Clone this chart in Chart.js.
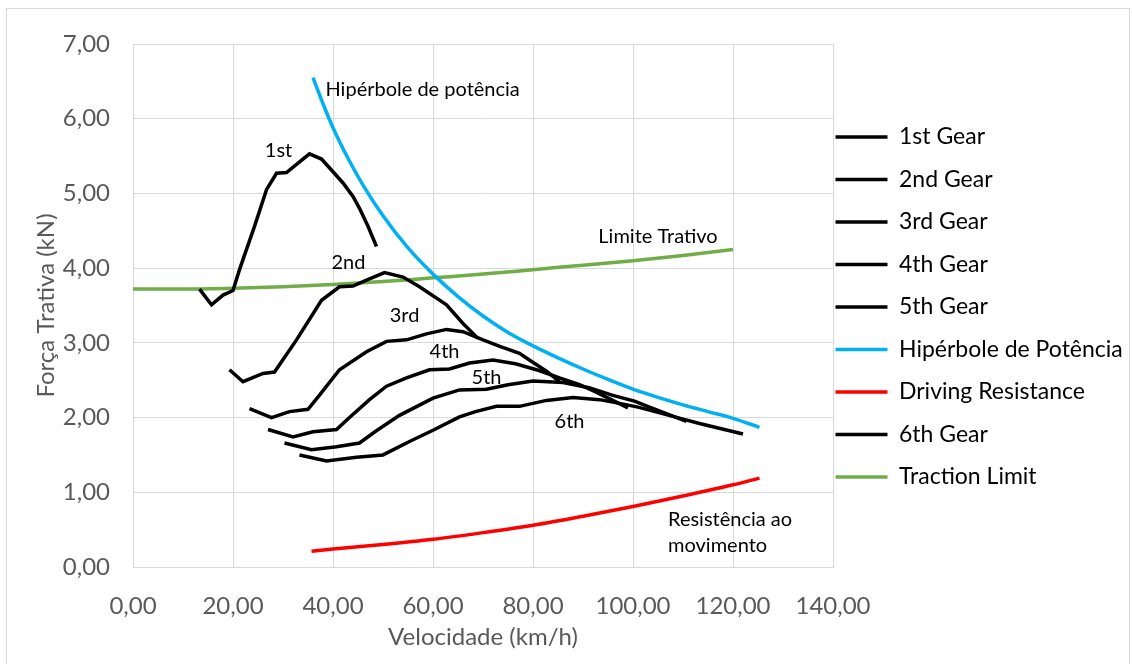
<!DOCTYPE html>
<html>
<head>
<meta charset="utf-8">
<script src="https://cdn.jsdelivr.net/npm/chart.js@4.4.1/dist/chart.umd.min.js"></script>
<style>
  body { margin: 0; background: #fff; }
  #wrap { position: relative; width: 1132px; height: 664px; }
  #frame { position: absolute; left: 6px; top: 8px; width: 1124px; height: 660px; border: 1px solid #d9d9d9; box-sizing: border-box; }
  canvas { position: absolute; left: 0; top: 0; }
</style>
</head>
<body>
<div id="wrap">
  <div id="frame"></div>
  <canvas id="grafico" width="1132" height="664"></canvas>
</div>
<script>
// Valeurs (km/h , kN)
const gear1Speed = [13.3, 15.7, 18, 20, 21.3, 24.3, 26.7, 28.7, 30.7, 32.7, 35.3, 37.7, 40, 42, 44, 45.3, 47, 48.7];
const gear1Force = [3.72, 3.51, 3.64, 3.70, 3.98, 4.56, 5.05, 5.27, 5.28, 5.39, 5.53, 5.46, 5.29, 5.14, 4.96, 4.80, 4.56, 4.29];

const gear2Speed = [19.3, 22, 26, 28.3, 32.7, 37.7, 41.3, 44, 46.7, 50.3, 54, 57.3, 62.7, 66, 69];
const gear2Force = [2.64, 2.48, 2.59, 2.61, 3.04, 3.57, 3.75, 3.76, 3.84, 3.94, 3.88, 3.75, 3.51, 3.26, 3.06];

const gear3Speed = [23.3, 27.7, 31.3, 35, 37.3, 41.3, 46.7, 50.7, 54.7, 58.7, 62.7, 66, 70, 73.5, 77.3, 79.5, 82.7, 85.3];
const gear3Force = [2.12, 2.00, 2.08, 2.11, 2.30, 2.64, 2.88, 3.02, 3.04, 3.12, 3.18, 3.15, 3.04, 2.95, 2.86, 2.76, 2.62, 2.48];

const gear4Speed = [27, 32, 36, 40.7, 43.3, 47.3, 50.7, 54.7, 59.3, 63.3, 67.3, 72, 76.5, 81.2, 85.3, 89.3, 92, 99];
const gear4Force = [1.84, 1.74, 1.81, 1.84, 2.00, 2.24, 2.42, 2.53, 2.64, 2.65, 2.73, 2.77, 2.72, 2.63, 2.53, 2.44, 2.36, 2.13];

const gear5Speed = [30.3, 35.7, 40.7, 45.3, 48.6, 53.3, 60, 65.3, 70.7, 75, 80, 86, 91.2, 95.8, 100.3, 103.3, 110.7];
const gear5Force = [1.66, 1.57, 1.61, 1.66, 1.82, 2.03, 2.26, 2.37, 2.38, 2.44, 2.49, 2.47, 2.40, 2.30, 2.22, 2.14, 1.95];

const gear6Speed = [33.3, 38.7, 44.7, 50, 55.3, 60, 65.3, 68.5, 72.7, 77.3, 82.7, 88, 93.3, 97.3, 101, 105, 110, 113.3, 122];
const gear6Force = [1.50, 1.42, 1.47, 1.50, 1.68, 1.83, 2.01, 2.08, 2.15, 2.15, 2.23, 2.27, 2.24, 2.19, 2.14, 2.07, 1.98, 1.92, 1.78];

const hiperSpeed = [36, 38, 40, 43, 46, 50, 55, 60, 65, 70, 75, 80, 85, 90, 95, 100, 105, 110, 115, 120, 125.3];
const hiperForce = [6.55, 6.20, 5.88, 5.47, 5.11, 4.70, 4.27, 3.92, 3.62, 3.36, 3.14, 2.96, 2.80, 2.65, 2.51, 2.38, 2.27, 2.17, 2.08, 1.99, 1.87];

const resistSpeed = [35.7, 40, 50, 60, 70, 80, 90, 100, 110, 120, 125.3];
const resistForce = [0.21, 0.24, 0.30, 0.37, 0.46, 0.56, 0.68, 0.81, 0.95, 1.10, 1.19];

const limiteSpeed = [0, 10, 20, 30, 40, 50, 60, 70, 80, 90, 100, 110, 120];
const limiteForce = [3.72, 3.72, 3.73, 3.75, 3.78, 3.82, 3.87, 3.92, 3.98, 4.04, 4.10, 4.17, 4.25];

const xTicks = [0, 20, 40, 60, 80, 100, 120, 140];
const yTicks = [0, 1, 2, 3, 4, 5, 6, 7];

// Textes posés sur le graphique
const noteTexts = ['Hipérbole de potência', '1st', '2nd', '3rd', '4th', '5th', '6th', 'Limite Trativo', 'Resistência ao', 'movimento'];
const noteX = [38.5, 29.1, 43.1, 54.3, 62.3, 70.7, 87.3, 105, 107, 107];
const noteY = [6.39, 5.57, 4.08, 3.36, 2.89, 2.54, 1.95, 4.42, 0.64, 0.29];
const noteAlign = ['left', 'center', 'center', 'center', 'center', 'center', 'center', 'center', 'left', 'left'];

function points(xs, ys) {
    return xs.map((x, i) => ({x: x, y: ys[i]}));
}

function courbe(label, xs, ys, color, lisse) {
    return {
        label: label,
        data: points(xs, ys),
        borderColor: color,
        backgroundColor: color,
        borderWidth: 3.5,
        pointRadius: 0,
        tension: lisse ? 0.4 : 0,
        cubicInterpolationMode: lisse ? 'monotone' : 'default'
    };
}

function virgule(v) {
    return v.toFixed(2).replace('.', ',');
}

const notesPlugin = {
    id: 'notes',
    afterDatasetsDraw(chart) {
        const ctx = chart.ctx;
        const sx = chart.scales.x;
        const sy = chart.scales.y;
        ctx.save();
        ctx.font = '20px Lato';
        ctx.fillStyle = '#000';
        ctx.textBaseline = 'middle';
        noteTexts.forEach((t, i) => {
            ctx.textAlign = noteAlign[i];
            ctx.fillText(t, sx.getPixelForValue(noteX[i]), sy.getPixelForValue(noteY[i]));
        });
        ctx.restore();
    }
};

// rapprocher la légende de la zone du graphique et la remonter
const legendePlugin = {
    id: 'legende',
    afterLayout(chart) {
        chart.legend.left -= 17;
        chart.legend.top -= 47;
        chart.legend.bottom -= 47;
    }
};

Chart.defaults.font.family = 'Lato';

new Chart(document.getElementById('grafico'), {
    type: 'line',
    data: {
        datasets: [
            courbe('1st Gear', gear1Speed, gear1Force, '#000000', false),
            courbe('2nd Gear', gear2Speed, gear2Force, '#000000', false),
            courbe('3rd Gear', gear3Speed, gear3Force, '#000000', false),
            courbe('4th Gear', gear4Speed, gear4Force, '#000000', false),
            courbe('5th Gear', gear5Speed, gear5Force, '#000000', false),
            courbe('Hipérbole de Potência', hiperSpeed, hiperForce, '#00b0f0', true),
            courbe('Driving Resistance', resistSpeed, resistForce, '#ff0000', true),
            courbe('6th Gear', gear6Speed, gear6Force, '#000000', false),
            courbe('Traction Limit', limiteSpeed, limiteForce, '#70ad47', true)
        ]
    },
    options: {
        responsive: false,
        animation: false,
        devicePixelRatio: 1,
        layout: {
            padding: {left: 7, top: 44, right: 4, bottom: 0}
        },
        plugins: {
            tooltip: {enabled: false},
            legend: {
                position: 'right',
                maxWidth: 295,
                labels: {
                    color: '#000',
                    font: {size: 23},
                    usePointStyle: true,
                    pointStyle: 'line',
                    pointStyleWidth: 52,
                    padding: 19.5
                }
            }
        },
        scales: {
            x: {
                type: 'linear',
                min: 0,
                max: 140,
                afterBuildTicks(scale) {
                    scale.ticks = xTicks.map(v => ({value: v}));
                },
                afterFit(scale) {
                    scale.height = 97;
                },
                grid: {color: '#d9d9d9', drawTicks: false},
                border: {color: '#d9d9d9'},
                ticks: {
                    color: '#595959',
                    font: {size: 24},
                    padding: 25,
                    maxRotation: 0,
                    callback: v => virgule(v)
                },
                title: {
                    display: true,
                    text: 'Velocidade (km/h)',
                    color: '#595959',
                    font: {size: 24},
                    padding: {top: 0, bottom: 12}
                }
            },
            y: {
                type: 'linear',
                min: 0,
                max: 7,
                afterBuildTicks(scale) {
                    scale.ticks = yTicks.map(v => ({value: v}));
                },
                afterFit(scale) {
                    scale.width = 126;
                },
                grid: {color: '#d9d9d9', drawTicks: false},
                border: {color: '#d9d9d9'},
                ticks: {
                    color: '#595959',
                    font: {size: 24},
                    padding: 23,
                    callback: v => virgule(v)
                },
                title: {
                    display: true,
                    text: 'Força Trativa (kN)',
                    color: '#595959',
                    font: {size: 24},
                    padding: {top: 25, bottom: 0}
                }
            }
        }
    },
    plugins: [notesPlugin, legendePlugin]
});
</script>
</body>
</html>
